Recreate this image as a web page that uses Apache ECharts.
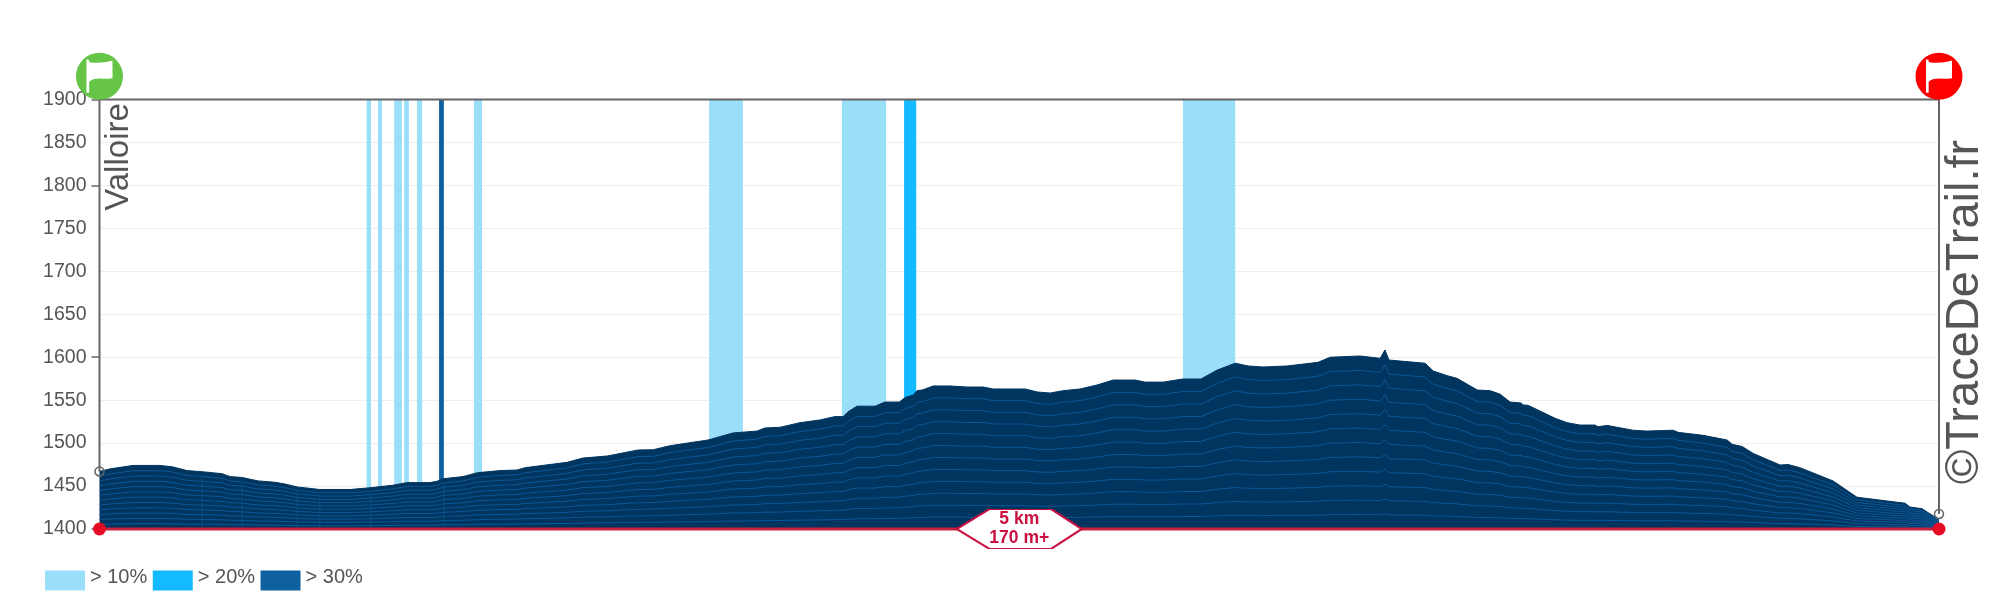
<!DOCTYPE html>
<html><head><meta charset="utf-8">
<style>html,body{margin:0;padding:0;background:#fff}#c{width:2000px;height:600px}</style>
<script src="https://cdn.jsdelivr.net/npm/echarts@6/dist/echarts.min.js"></script>
</head><body><div id="c"></div>
<script>
// distance along the trail (metres) and elevation (metres)
const profileDist = [0,29,91,164,197,238,279,333,355,387,431,477,504,537,599,681,735,798,836,898,917,934,988,1027,1089,1135,1157,1271,1314,1380,1464,1505,1551,1654,1722,1787,1809,1850,1904,1959,2000,2021,2035,2059,2108,2135,2174,2190,2212,2222,2238,2266,2312,2358,2402,2429,2448,2516,2549,2584,2619,2665,2711,2755,2815,2842,2891,2945,2994,3038,3087,3122,3163,3228,3312,3345,3427,3481,3494,3505,3603,3625,3663,3690,3745,3780,3807,3834,3864,3870,3883,3957,3989,4024,4065,4073,4098,4168,4206,4277,4291,4359,4424,4438,4465,4495,4568,4590,4622,4712,4777,4908,4921,4954,4976,5000];
const profileEle = [1467,1470,1474,1474,1472.5,1468,1466.7,1464.4,1461,1460,1456,1454.4,1452.4,1449,1446,1446,1448,1451,1454,1454,1455.5,1458.5,1461,1465.5,1468,1468.7,1471.4,1477.6,1482.6,1485,1492,1492.3,1497,1503.6,1511.8,1514,1517.6,1518.4,1523.8,1527,1531,1530.8,1536.6,1543,1543,1547.8,1547.8,1553,1556,1561,1562,1566.5,1566.5,1565.3,1565.3,1563,1563,1563,1559.5,1558.3,1561,1563,1567.6,1573.4,1573.4,1571,1571,1574.6,1574.6,1585,1593,1589.8,1588.6,1589.8,1594,1600,1601.4,1598.7,1608.4,1596.7,1593,1584,1578.5,1575.4,1561.8,1561,1557,1547.8,1546.7,1544.4,1544,1528.8,1523.8,1521,1521,1519,1520.6,1515,1514,1515,1512.5,1509,1503.6,1498.6,1496,1488,1474.5,1475,1471.4,1456,1437,1430,1425.6,1423.6,1417.5,1411];
// steep sections [start, end] in metres
const steep10 = [[726,738],[757,768],[801,822],[828,841],[863,877],[1018,1040],[1657,1749],[2018,2138],[2945,3087]];
const steep20 = [[2187,2220]];
const steep30 = [[923,936]];
const legendNames = ['> 10%','> 20%','> 30%'];
// contour levels as twelfths of the height above the base
const contourLevels = [1,2,3,4,5,6,7,8,9,10,11];
const contourSteps = 12;
// segment joints [distance, top elevation]
const joints = [[279,1460],[387,1455],[537,1444],[599,1440],[738,1442],[936,1452]];
const yTicks = {min:1400,max:1900,step:50,majorStep:200};
const frameRight = [[5000,1417.5],[5000,1900]];
const frameTop = [[5000,1900],[0,1900]];
const frameLeft = [[0,1900],[0,1467]];
const baseLine = [[0,1400],[5000,1400]];
const placeStart = 'Valloire';
const credit = '©TraceDeTrail.fr';
const summary = ['5 km','170 m+'];

const C = {fill:'#00355f',line:'#0b5796',frame:'#666666',red:'#e60b25',crim:'#c9103f',text:'#555555',
  s10:'#9adff9',s20:'#14baff',s30:'#0f609f'};
const FONT = '"Liberation Sans",Arial,sans-serif';
const FLAG = 'path://M262 88L270 90L270 96C290 101 315 99 340 92L340 145C320 150 290 138 270 155L270 188L262 188Z';
const HEX = 'path://M0 19.5L32 0L95 0L125 19.5L95 39L32 39Z';

const profile = profileDist.map((d,i)=>[d,profileEle[i]]);
function bandSeries(name,data,color){
  return {type:'custom',name,data,z:1,coordinateSystem:'cartesian2d',clip:true,
    itemStyle:{color},encode:{x:[0,1]},
    renderItem:(p,api)=>{
      const a=api.coord([api.value(0),yTicks.max]),b=api.coord([api.value(1),yTicks.min]);
      return {type:'rect',shape:{x:a[0],y:a[1],width:b[0]-a[0],height:b[1]-a[1]},style:{fill:color}};
    }};
}
const series=[
  bandSeries(legendNames[0],steep10,C.s10),
  bandSeries(legendNames[1],steep20,C.s20),
  bandSeries(legendNames[2],steep30,C.s30),
  {type:'line',data:profile,symbol:'none',z:3,lineStyle:{color:C.fill,width:1},areaStyle:{color:C.fill,opacity:1,origin:'start'},silent:true}
];
contourLevels.forEach(k=>{
  series.push({type:'line',symbol:'none',z:4,silent:true,lineStyle:{color:C.line,width:1},
    data:profile.map(p=>[p[0],yTicks.min+(p[1]-yTicks.min)*k/contourSteps])});
});
series.push({type:'custom',z:4,silent:true,data:joints,encode:{x:0,y:1},
  renderItem:(p,api)=>{
    const a=api.coord([api.value(0),yTicks.min]),b=api.coord([api.value(0),api.value(1)]);
    return {type:'line',shape:{x1:a[0],y1:a[1],x2:b[0],y2:b[1]},style:{stroke:'#0a4c82',lineWidth:1}};
  }});
function frame(data,ringIndex){
  return {type:'line',z:6,clip:false,silent:true,showSymbol:true,showAllSymbol:true,symbol:'none',
    lineStyle:{color:C.frame,width:2},
    data:data.map((v,i)=>i===ringIndex?{value:v,symbol:'circle',symbolSize:9,itemStyle:{color:'rgba(0,0,0,0)',borderColor:C.frame,borderWidth:1.5}}:{value:v})};
}
series.push(frame(frameRight,0),frame(frameTop,-1),frame(frameLeft,1));
series.push({type:'line',z:7,clip:false,silent:true,data:baseLine,symbol:'circle',symbolSize:13,showSymbol:true,
  itemStyle:{color:C.red},lineStyle:{color:'#c9203f',width:3},
  markPoint:{silent:true,z:8,symbol:HEX,symbolSize:[125,39],itemStyle:{color:'#fff',borderColor:C.crim,borderWidth:2},
    data:[{coord:[2500,1400]}],
    label:{show:true,position:'inside',formatter:summary.join('\n'),color:C.crim,fontFamily:FONT,fontWeight:'bold',fontSize:17.5,lineHeight:19}}});
function flag(pt,color){
  return [
   {type:'scatter',z:8,clip:false,silent:true,data:[pt],symbol:'circle',symbolSize:47,symbolOffset:[0,-23.2],itemStyle:{color,opacity:1}},
   {type:'scatter',z:9,clip:false,silent:true,data:[pt],symbol:FLAG,symbolSize:[26,33.5],symbolOffset:[0,-23.5],itemStyle:{color:'#fff',opacity:1}}
  ];
}
series.push(...flag([0,1900],'#66c547'),...flag([5000,1900],'#ff0000'));

const chart=echarts.init(document.getElementById('c'),null,{renderer:'canvas'});
chart.setOption({
  animation:false,backgroundColor:'#fff',
  grid:{left:99.5,right:61,top:99.5,height:429.5,containLabel:false},
  xAxis:{type:'value',min:0,max:5000,show:false},
  yAxis:[
   {type:'value',min:yTicks.min,max:yTicks.max,interval:yTicks.step,
    axisLine:{show:false},axisTick:{show:false},
    axisLabel:{color:C.text,fontFamily:FONT,fontSize:19.5,margin:13,formatter:v=>String(v)},
    splitLine:{show:true,lineStyle:{color:'#eeeeee',width:1.2}}},
   {type:'value',min:yTicks.min,max:yTicks.max,interval:yTicks.majorStep,position:'left',
    axisLine:{show:false,onZero:false},axisTick:{show:true,length:8,inside:false,lineStyle:{color:C.frame,width:1.5}},
    axisLabel:{show:false},splitLine:{show:false}}
  ],
  legend:{data:legendNames,left:45,top:567,padding:0,itemWidth:40,itemHeight:20,itemGap:5.5,icon:'rect',selectedMode:false,
    formatter:n=>'{t|'+n+'}\n{s| }',
    textStyle:{color:C.text,fontFamily:FONT,fontSize:20,
      rich:{t:{color:C.text,fontFamily:FONT,fontSize:20,lineHeight:22},s:{fontSize:1,lineHeight:7}}}},
  graphic:[
   {type:'text',x:118.5,y:157,rotation:Math.PI/2,z:10,silent:true,style:{text:placeStart,fill:C.text,font:'33px '+FONT,textAlign:'center',textVerticalAlign:'middle'}},
   {type:'text',x:1965,y:312,rotation:Math.PI/2,z:10,silent:true,style:{text:credit,fill:C.text,font:'47px '+FONT,textAlign:'center',textVerticalAlign:'middle'}}
  ],
  series
});
</script></body></html>
